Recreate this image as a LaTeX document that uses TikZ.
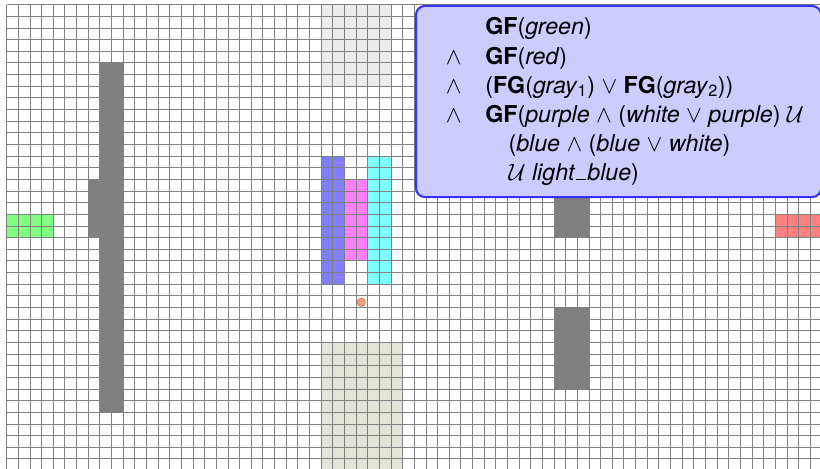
\documentclass[tikz,border=0pt]{standalone}
\usepackage{fontspec}
\setmainfont{TeX Gyre Heros}
\usepackage{amsmath}
\usepackage{tikz}
\definecolor{Wall}{HTML}{808080}
\definecolor{Green}{HTML}{80FF80}
\definecolor{Red}{HTML}{FF8080}
\definecolor{Purple}{HTML}{8080FF}
\definecolor{Pink}{HTML}{FF80FF}
\definecolor{Cyan}{HTML}{80FFFF}
\definecolor{Light}{HTML}{ECECEC}
\definecolor{Sand}{HTML}{E4E4D8}
\definecolor{Robot}{HTML}{F4A080}
\definecolor{RobotEdge}{HTML}{D8704C}
\definecolor{Spec}{HTML}{CCCCFF}
\definecolor{SpecEdge}{HTML}{3333FF}

\begin{document}
\begin{tikzpicture}[x=0.3cm, y=-0.3cm, font=\fontsize{17}{21.3}\selectfont,
        gridline/.style={Wall, line width=0.6pt},
        specbox/.style={draw=SpecEdge, fill=Spec, line width=1.5pt, rounded corners=6.5pt}]
    \useasboundingbox (-0.5728, -0.401) rectangle (69.84, 39.87);
    \fill[Light] (27, 0) rectangle (33, 7);
    \fill[Sand] (27, 29) rectangle (34, 40);
    \fill[Green] (0, 18) rectangle (4, 20);
    \fill[Red] (66, 18) rectangle (70, 20);
    \fill[Purple] (27, 13) rectangle (29, 24);
    \fill[Pink] (29, 15) rectangle (31, 22);
    \fill[Cyan] (31, 13) rectangle (33, 24);
    \fill[Wall] (8, 5) rectangle (10, 35) (7, 15) rectangle (8, 20);
    \fill[Wall] (47, 15) rectangle (50, 20) (47, 26) rectangle (50, 33);
    \foreach \x in {0, ..., 70} {
        \draw[gridline] (\x, 0) -- (\x, 40);
    }
    \foreach \y in {0, ..., 40} {
        \draw[gridline] (0, \y) -- (70, \y);
    }
    \draw[RobotEdge, fill=Robot, line width=0.5pt] (30.45, 25.55) circle (0.36);
    \draw[specbox] (35.15, 0.11) rectangle (69.93, 16.52);
    \node[anchor=base west, inner sep=0] (spec) at (37.68, 2.6) {%
        \begin{tabular}[t]{@{}c@{\hspace{17.5pt}}l@{}}
                 & \textbf{GF}(\textit{green}) \\
        $\wedge$ & \textbf{GF}(\textit{red}) \\
        $\wedge$ & (\textbf{FG}(\textit{gray}$_{\text{1}}$) $\vee$ \textbf{FG}(\textit{gray}$_{\text{2}}$)) \\
        $\wedge$ & \textbf{GF}(\textit{purple} $\wedge$ (\textit{white} $\vee$ \textit{purple}) $\mathcal{U}$ \\
                 & \quad(\textit{blue} $\wedge$ (\textit{blue} $\vee$ \textit{white}) \\
                 & \quad$\mathcal{U}$ \textit{light\kern0.05em\rule{0.45em}{0.06em}\kern0.05em blue})
        \end{tabular}};
\end{tikzpicture}
\end{document}
